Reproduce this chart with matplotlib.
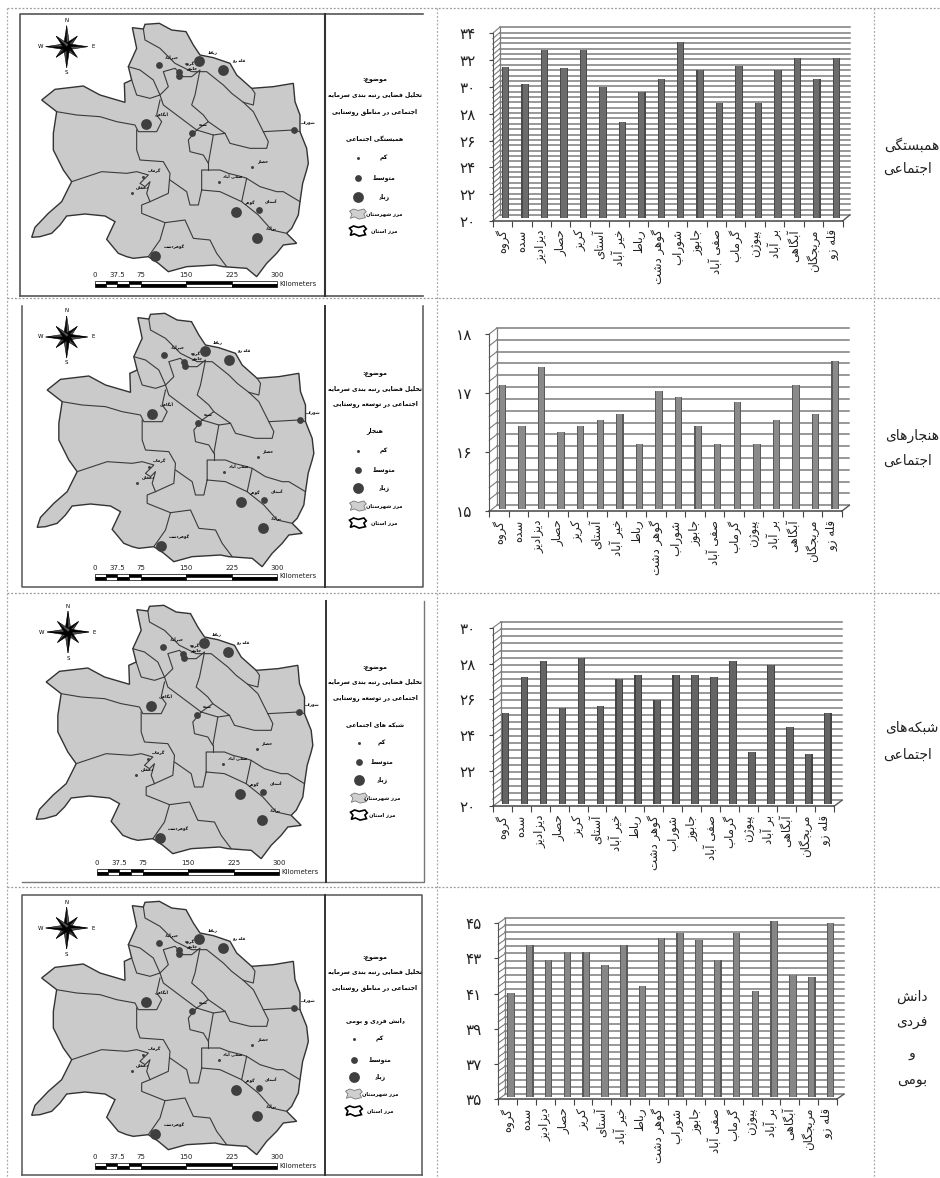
import numpy as np
import matplotlib
matplotlib.use('Agg')
import matplotlib.pyplot as plt
from matplotlib.patches import Polygon, Rectangle
from matplotlib.transforms import offset_copy

plt.rcParams['font.family'] = ['DejaVu Sans']

# ---- chart data
villages = ['گروه', 'سده', 'دیزادیز', 'حصار', 'کریز', 'آستای', 'خیر آباد', 'رباط', 'گوهر دشت',
            'شوراب', 'جابوز', 'صفی آباد', 'گرماب', 'پیوژن', 'بر آباد', 'آبگاهی', 'مریجگان', 'قله زو']

cohesion = [31.3, 30.0, 32.6, 31.2, 32.6, 29.8, 27.2, 29.4, 30.4, 33.2, 31.1, 28.6, 31.4, 28.6, 31.1, 32.0, 30.4, 32.0]
norms = [17.1, 16.4, 17.4, 16.3, 16.4, 16.5, 16.6, 16.1, 17.0, 16.9, 16.4, 16.1, 16.8, 16.1, 16.5, 17.1, 16.6, 17.5]
networks = [25.1, 27.1, 28.0, 25.4, 28.2, 25.5, 27.0, 27.2, 25.8, 27.2, 27.2, 27.1, 28.0, 22.9, 27.8, 24.3, 22.8, 25.1]
knowledge = [40.9, 43.6, 42.8, 43.2, 43.2, 42.5, 43.6, 41.3, 44.0, 44.3, 43.9, 42.8, 44.3, 41.0, 45.0, 41.9, 41.8, 44.9]

row_values = [cohesion, norms, networks, knowledge]
row_limits = [(20, 34), (15, 18), (20, 30), (35, 45)]
row_major = [2, 1, 2, 2]
row_minor = [0.4, 0.2, 0.4, 0.4]
row_ticklabels = [['۲۰', '۲۲', '۲۴', '۲۶', '۲۸', '۳۰', '۳۲', '۳۴'],
                  ['۱۵', '۱۶', '۱۷', '۱۸'],
                  ['۲۰', '۲۲', '۲۴', '۲۶', '۲۸', '۳۰'],
                  ['۳۵', '۳۷', '۳۹', '۴۱', '۴۳', '۴۵']]
row_names = [['همبستگی', 'اجتماعی'], ['هنجارهای', 'اجتماعی'], ['شبکه\u200cهای', 'اجتماعی'],
             ['دانش', 'فردی', 'و', 'بومی']]
row_name_y = [[145, 169], [436, 461], [728, 755], [997, 1022, 1053, 1080]]
row_name_x = [[912, 907], [912, 907], [912, 907], [912, 912, 912, 912]]

# legend text next to each map
map_line2 = ['اجتماعی در مناطق روستایی', 'اجتماعی در توسعه روستایی',
             'اجتماعی در توسعه روستایی', 'اجتماعی در مناطق روستایی']
map_heading = ['همبستگی اجتماعی', 'هنجار', 'شبکه های اجتماعی', 'دانش فردی و بومی']
legend_items = ['کم', 'متوسط', 'زیاد', 'مرز شهرستان', 'مرز استان']
scale_labels = ['0', '37.5', '75', '150', '225', '300']

# ---- map geometry (units: px * 3 in the first map, shifted for each row)
province = [(397, 83), (430, 87), (435, 73), (478, 70), (515, 90), (558, 95), (580, 135), (600, 165), (640, 173),
            (690, 190), (710, 225), (755, 265), (820, 260), (880, 250), (885, 305), (900, 345), (900, 395),
            (920, 445), (925, 490), (920, 510), (908, 550), (900, 605), (895, 645), (875, 685), (860, 700),
            (890, 730), (850, 735), (830, 760), (800, 790), (770, 830), (740, 805), (670, 800), (645, 795),
            (560, 800), (505, 815), (475, 790), (445, 770), (400, 775), (380, 770), (355, 760), (320, 718),
            (345, 665), (315, 648), (255, 642), (200, 648), (180, 675), (155, 700), (120, 710), (95, 712),
            (105, 682), (145, 640), (185, 605), (215, 545), (190, 510), (160, 450), (160, 400), (170, 335),
            (125, 300), (165, 268), (250, 258), (300, 285), (375, 307), (373, 250), (395, 240), (385, 200),
            (410, 145)]
borders = [
    [(430, 87), (435, 120), (480, 145), (525, 190), (575, 215), (620, 215), (670, 255), (695, 280), (730, 307),
     (760, 315), (765, 280), (755, 265)],
    [(385, 200), (420, 210), (460, 240), (480, 285), (505, 260), (490, 215), (525, 205), (550, 230), (575, 230),
     (600, 210), (585, 285), (575, 315), (610, 345), (625, 365), (590, 390)],
    [(395, 240), (410, 285), (450, 295), (480, 285), (490, 315), (550, 360), (590, 390), (565, 420), (570, 455),
     (610, 465), (625, 490), (640, 405), (590, 390)],
    [(625, 365), (675, 400), (690, 430), (750, 445), (800, 445), (805, 425), (790, 395), (760, 335), (730, 307)],
    [(790, 395), (880, 390), (900, 395)],
    [(640, 405), (675, 400)],
    [(170, 335), (230, 345), (300, 350), (350, 365), (405, 375), (415, 395), (470, 395), (485, 365), (470, 345),
     (480, 300)],
    [(410, 390), (410, 450), (420, 480), (490, 485), (510, 520), (505, 580), (450, 605), (425, 615), (425, 640),
     (495, 668), (480, 720), (445, 770)],
    [(215, 545), (305, 515), (380, 520), (410, 515), (445, 525), (420, 550), (435, 560), (450, 545), (440, 580),
     (450, 605)],
    [(495, 668), (555, 660), (580, 715), (630, 720), (650, 760), (680, 800)],
    [(510, 540), (560, 575), (570, 615), (595, 615), (605, 570), (660, 575), (725, 605), (740, 535), (725, 530),
     (685, 520), (660, 510), (605, 510), (605, 570)],
    [(625, 490), (625, 510)],
    [(725, 605), (775, 645), (815, 690), (860, 700)],
    [(740, 535), (780, 560), (830, 575), (850, 575), (900, 605)],
]
site_x = [476, 597, 670, 536, 538, 439, 577, 882, 757, 656, 429, 395, 707, 776, 772, 465]
site_y = [196, 184, 209, 215, 227, 372, 398, 390, 500, 547, 530, 578, 637, 629, 714, 768]
site_class = [1, 2, 2, 1, 1, 2, 1, 1, 0, 0, 0, 0, 2, 1, 2, 2]
site_names = ['خیرآباد', 'رباط', 'قله زو', 'گروه', 'جابوز', 'آبگاهی', 'سده', 'شوراب', 'حصار', 'صفی آباد', 'گرماب',
              'دهقان', 'گوهر', 'آستای', 'برآباد', 'گوهردشت']
swatch = [(0, 6), (10, 0), (22, 4), (36, 0), (42, 8), (36, 14), (40, 24), (24, 28), (12, 22), (2, 26), (6, 14)]
scale_stops = [284, 318, 352, 388, 422, 558, 695, 832]

# ---- layout in pixels, per row
map_dx = [0, 5.5, 4.5, 0]
map_dy = [0, 290, 582, 878]
compass_xy = [(66.7, 46.7), (66.7, 337), (68, 632), (66.7, 928)]
scale_x = [0, 0, 2, 0]
scale_y = [281, 573.5, 869, 1163]
legend_lines_y = [[80, 95, 112, 139], [373, 389, 404, 431], [667, 682, 698, 724], [957, 972, 988, 1021]]
legend_items_y = [[158, 178, 197, 214, 231], [451, 470, 488, 506, 523], [743, 762, 780, 798, 815],
                  [1039, 1060, 1077, 1094, 1111]]
legend_dot_x = [358, 358, 359, 354]
legend_text_x = [384, 384, 382, 380]
chart_box = [(492.7, 842.7, 33.3, 221), (489.3, 841.7, 334, 511.3), (492.7, 834, 628, 806.3),
             (498.3, 836.7, 923.3, 1099.3)]
chart_depth = [(7, 6), (7.6, 6), (8, 6), (7, 5)]
bar_colors = [('#4a4a4a', '#6c6c6c'), ('#5a5a5a', '#8a8a8a'), ('#444444', '#646464'), ('#5a5a5a', '#868686')]

W, H = 940, 1178
JOIN_FORMS = {
    'ء': (0xFE80,), 'آ': (0xFE81, 0xFE82), 'ا': (0xFE8D, 0xFE8E), 'ب': (0xFE8F, 0xFE90, 0xFE91, 0xFE92),
    'پ': (0xFB56, 0xFB57, 0xFB58, 0xFB59), 'ت': (0xFE95, 0xFE96, 0xFE97, 0xFE98),
    'ج': (0xFE9D, 0xFE9E, 0xFE9F, 0xFEA0), 'چ': (0xFB7A, 0xFB7B, 0xFB7C, 0xFB7D),
    'ح': (0xFEA1, 0xFEA2, 0xFEA3, 0xFEA4), 'خ': (0xFEA5, 0xFEA6, 0xFEA7, 0xFEA8),
    'د': (0xFEA9, 0xFEAA), 'ذ': (0xFEAB, 0xFEAC), 'ر': (0xFEAD, 0xFEAE), 'ز': (0xFEAF, 0xFEB0),
    'ژ': (0xFB8A, 0xFB8B), 'س': (0xFEB1, 0xFEB2, 0xFEB3, 0xFEB4), 'ش': (0xFEB5, 0xFEB6, 0xFEB7, 0xFEB8),
    'ص': (0xFEB9, 0xFEBA, 0xFEBB, 0xFEBC), 'ض': (0xFEBD, 0xFEBE, 0xFEBF, 0xFEC0),
    'ط': (0xFEC1, 0xFEC2, 0xFEC3, 0xFEC4), 'ع': (0xFEC9, 0xFECA, 0xFECB, 0xFECC),
    'غ': (0xFECD, 0xFECE, 0xFECF, 0xFED0), 'ف': (0xFED1, 0xFED2, 0xFED3, 0xFED4),
    'ق': (0xFED5, 0xFED6, 0xFED7, 0xFED8), 'ک': (0xFB8E, 0xFB8F, 0xFB90, 0xFB91),
    'گ': (0xFB92, 0xFB93, 0xFB94, 0xFB95), 'ل': (0xFEDD, 0xFEDE, 0xFEDF, 0xFEE0),
    'م': (0xFEE1, 0xFEE2, 0xFEE3, 0xFEE4), 'ن': (0xFEE5, 0xFEE6, 0xFEE7, 0xFEE8),
    'ه': (0xFEE9, 0xFEEA, 0xFEEB, 0xFEEC), 'و': (0xFEED, 0xFEEE), 'ی': (0xFBFC, 0xFBFD, 0xFBFE, 0xFBFF),
}


def fa(text):
    # matplotlib does no Arabic shaping, so pick the joined forms and lay out right to left
    out = []
    chars = list(text)
    for i, ch in enumerate(chars):
        if ch not in JOIN_FORMS:
            if ch != '\u200c':
                out.append(ch)
            continue
        forms = JOIN_FORMS[ch]
        prev = chars[i - 1] if i > 0 else ''
        nxt = chars[i + 1] if i + 1 < len(chars) else ''
        from_prev = prev in JOIN_FORMS and len(JOIN_FORMS[prev]) == 4
        to_next = nxt in JOIN_FORMS and len(forms) == 4
        if from_prev and to_next:
            idx = 3
        elif to_next:
            idx = 2
        elif from_prev and len(forms) > 1:
            idx = 1
        else:
            idx = 0
        out.append(chr(forms[idx]))
    return ''.join(reversed(out))


fig = plt.figure(figsize=(W / 100, H / 100), dpi=100)
page = fig.add_axes([0, 0, 1, 1])
page.set_xlim(0, W)
page.set_ylim(H, 0)
page.axis('off')

# table lines
for y in [8, 298, 593, 887]:
    page.plot([7, W], [y, y], color='#9a9a9a', lw=0.9, ls=(0, (1.5, 1.5)))
for x in [7, 437, 874]:
    page.plot([x, x], [8, H], color='#a8a8a8', lw=0.9, ls=(0, (1.5, 1.5)))

# map frames
page.plot([20, 20, 423], [296, 14, 14], color='#555555', lw=1.2)
page.plot([20, 423], [296, 296], color='#555555', lw=1.2)
page.plot([325, 325], [14, 296], color='#333333', lw=1.5)
page.plot([22, 22, 423, 423], [306, 587, 587, 306], color='#555555', lw=1.1)
page.plot([325, 325], [306, 587], color='#333333', lw=1.4)
page.plot([22, 424, 424], [882, 882, 601], color='#777777', lw=1.0)
page.plot([326, 326], [601, 882], color='#333333', lw=1.4)
page.plot([22, 22, 422, 422], [1175, 895, 895, 1175], color='#555555', lw=1.1)
page.plot([22, 422], [1175, 1175], color='#555555', lw=1.1)
page.plot([325, 325], [895, 1175], color='#333333', lw=1.4)


def draw_compass(cx, cy):
    long_arm, short_arm, waist = 21, 15, 3.2
    for k in range(8):
        a = np.pi / 4 * k
        arm = long_arm if k % 2 == 0 else short_arm
        tip = (cx + arm * np.sin(a), cy - arm * np.cos(a))
        left = (cx + waist * np.sin(a - np.pi / 2), cy - waist * np.cos(a - np.pi / 2))
        right = (cx + waist * np.sin(a + np.pi / 2), cy - waist * np.cos(a + np.pi / 2))
        page.add_patch(Polygon([(cx, cy), tip, left], fc='black', ec='black', lw=0.4))
        page.add_patch(Polygon([(cx, cy), tip, right], fc='#555555', ec='black', lw=0.4))
    page.text(cx, cy - 26, 'N', fontsize=4, ha='center', va='center')
    page.text(cx, cy + 26, 'S', fontsize=4, ha='center', va='center')
    page.text(cx - 26, cy, 'W', fontsize=4, ha='center', va='center')
    page.text(cx + 26, cy, 'E', fontsize=4, ha='center', va='center')


radius = [1.5, 3.4, 5.4]
for r in range(4):
    dx, dy = map_dx[r], map_dy[r]
    pts = [(u / 3 + dx, v / 3 + dy) for u, v in province]
    page.add_patch(Polygon(pts, closed=True, fc='#cacaca', ec='#333333', lw=1.0, zorder=2))
    for line in borders:
        page.plot([u / 3 + dx for u, v in line], [v / 3 + dy for u, v in line], color='#3a3a3a', lw=0.8, zorder=3)
    for x, y, c, name in zip(site_x, site_y, site_class, site_names):
        px, py = x / 3 + dx, y / 3 + dy
        page.scatter([px], [py], s=(2 * radius[c] * 0.72) ** 2, c='#3f3f3f', lw=0, zorder=4)
        page.text(px + 3 + radius[c], py - 4 - radius[c], fa(name), fontsize=3.0, fontweight='bold',
                  ha='left', va='center', zorder=5)
    draw_compass(*compass_xy[r])

    # scale bar
    x0 = scale_x[r]
    ytop = scale_y[r]
    for i in range(len(scale_stops) - 1):
        a, b = scale_stops[i] / 3 + x0, scale_stops[i + 1] / 3 + x0
        page.add_patch(Rectangle((a, ytop), b - a, 3, fc='white' if i % 2 == 0 else 'black', ec='black', lw=0.5))
        page.add_patch(Rectangle((a, ytop + 3), b - a, 3, fc='black' if i % 2 == 0 else 'white', ec='black', lw=0.5))
    for lab, stop in zip(scale_labels, [284, 352, 422, 558, 695, 832]):
        page.text(stop / 3 + x0, ytop - 6, lab, fontsize=5, ha='center', va='center', color='#222222')
    page.text(832 / 3 + x0 + 2, ytop + 3, 'Kilometers', fontsize=5, ha='left', va='center', color='#222222')

    # map legend
    ly = legend_lines_y[r]
    lx = 375
    page.text(lx, ly[0], fa('موضوع:'), fontsize=4.6, fontweight='bold', ha='center', va='center')
    page.text(lx, ly[1], fa('تحلیل فضایی رتبه بندی سرمایه'), fontsize=4.4, fontweight='bold', ha='center', va='center')
    page.text(lx, ly[2], fa(map_line2[r]), fontsize=4.4, fontweight='bold', ha='center', va='center')
    page.text(lx, ly[3], fa(map_heading[r]), fontsize=4.4, fontweight='bold', ha='center', va='center')
    iy = legend_items_y[r]
    dot_x = legend_dot_x[r]
    for c in range(3):
        page.scatter([dot_x], [iy[c]], s=(2 * radius[c] * 0.72) ** 2, c='#3f3f3f', lw=0)
    for k, lab in enumerate(legend_items):
        page.text(legend_text_x[r], iy[k], fa(lab), fontsize=4.4 if k < 3 else 3.7,
                  fontweight='bold', ha='center', va='center')
    blob_gray = [(dot_x - 8.5 + u * 0.4, iy[3] - 5 + v * 0.36) for u, v in swatch]
    blob_line = [(dot_x - 8.5 + u * 0.4, iy[4] - 5 + v * 0.36) for u, v in swatch]
    page.add_patch(Polygon(blob_gray, closed=True, fc='#cfcfcf', ec='#777777', lw=0.6))
    page.add_patch(Polygon(blob_line, closed=True, fc='white', ec='black', lw=1.2))

    # row name in the last column
    for word, x, y in zip(row_names[r], row_name_x[r], row_name_y[r]):
        page.text(x, y, fa(word), fontsize=10, ha='center', va='center', color='#222222')

# bar charts
for r in range(4):
    left, right, top, bottom = chart_box[r]
    ax = fig.add_axes([left / W, 1 - bottom / H, (right - left) / W, (bottom - top) / H])
    ax.patch.set_alpha(0)
    vmin, vmax = row_limits[r]
    ax.set_xlim(0, len(villages))
    ax.set_ylim(vmin, vmax)

    ddx, ddy = chart_depth[r]
    back = offset_copy(ax.transData, fig=fig, x=ddx * 0.72, y=ddy * 0.72, units='points')
    nudge = offset_copy(ax.transData, fig=fig, x=3.3 * 0.72, y=2.5 * 0.72, units='points')

    grid = np.linspace(vmin, vmax, int(round((vmax - vmin) / row_minor[r])) + 1)
    n = len(villages)
    for g in grid:
        ax.plot([0, n], [g, g], transform=back, color='#7c7c7c', lw=1.1, clip_on=False, zorder=1)
    # side wall and floor of the 3d box
    depth_x = ddx * n / (right - left)
    depth_y = ddy * (vmax - vmin) / (bottom - top)
    for g in grid:
        ax.plot([0, depth_x], [g, g + depth_y], color='#7c7c7c', lw=0.8, clip_on=False, zorder=1)
    ax.plot([0, 0], [vmin, vmax], transform=back, color='#7c7c7c', lw=0.9, clip_on=False, zorder=1)
    ax.plot([n, n + depth_x], [vmin, vmin + depth_y], color='#555555', lw=1.0, clip_on=False, zorder=1)

    xs = np.arange(n) + 0.5
    edge, face = bar_colors[r]
    width_units = 7.5 * n / (right - left)
    bars = np.array(row_values[r]) - vmin
    ax.bar(xs, bars, bottom=vmin, width=width_units, color=edge, transform=nudge, clip_on=False, zorder=3)
    ax.bar(xs, bars, bottom=vmin, width=width_units * 0.7, color=face, transform=nudge, clip_on=False, zorder=4)

    for name in ['top', 'right']:
        ax.spines[name].set_visible(False)
    ax.spines['left'].set_color('#555555')
    ax.spines['bottom'].set_color('#444444')
    ax.spines['bottom'].set_linewidth(1.1)
    ax.set_yticks(np.arange(vmin, vmax + 0.01, row_major[r]))
    ax.set_yticklabels(row_ticklabels[r], fontsize=11, color='#222222')
    ax.tick_params(axis='y', length=3, pad=9, color='#444444')
    ax.set_xticks(np.arange(n + 1))
    ax.set_xticklabels([])
    ax.tick_params(axis='x', length=4, color='#444444')
    ax.set_xticks(xs, minor=True)
    ax.set_xticklabels([fa(v) for v in villages], minor=True, rotation=90, fontsize=8.5, color='#222222')
    ax.tick_params(axis='x', which='minor', length=0, pad=6)

fig.savefig('out.png', dpi=100)
